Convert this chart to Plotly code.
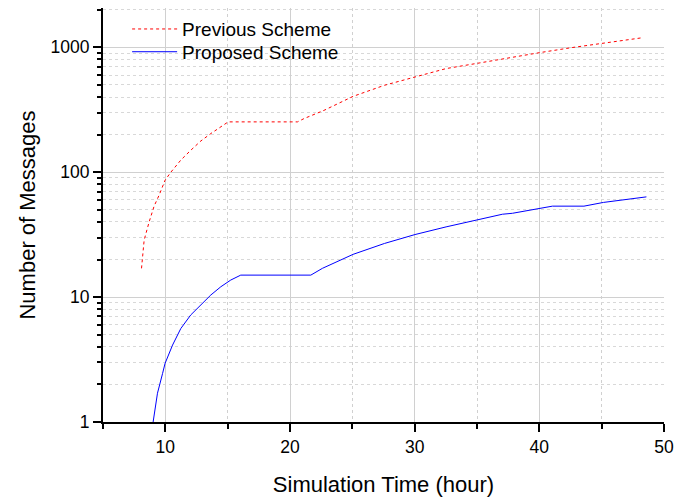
import plotly.graph_objects as go

prev_x = [8.09, 8.30, 8.70, 9.10, 9.50, 9.98, 10.44, 11.24, 12.04, 12.85, 13.65, 14.45, 15.04,
          20.6, 21.13, 22.73, 25.06, 27.58, 30.03, 32.52, 35.17, 37.55, 40.03, 42.6, 45.14, 48.3]
prev_y = [17.0, 28.6, 40, 53.5, 65.5, 86.3, 100, 125, 150, 178, 204, 230, 253,
          253, 269, 313, 405, 497, 578, 676, 749, 827, 907, 995, 1083, 1195]

prop_x = [9.02, 9.37, 9.78, 9.98, 10.58, 11.24, 12.04, 12.85, 13.65, 14.45, 15.25, 16.05,
          21.67, 22.6, 25.06, 27.58, 30.03, 32.52, 35.17, 37.04, 37.84, 40.03, 41.05, 43.58, 45.14, 48.59]
prop_y = [1.0, 1.7, 2.45, 2.95, 4.13, 5.6, 7.2, 8.6, 10.4, 12.1, 13.7, 15.0,
          15.0, 17, 22, 26.9, 31.7, 36.5, 41.8, 46.1, 46.9, 50.9, 53.5, 53.5, 57.3, 63.5]

FONT = "Arial, Liberation Sans, sans-serif"

fig = go.Figure()
fig.add_trace(go.Scatter(x=prev_x, y=prev_y, mode="lines", name="Previous Scheme",
                         line=dict(color="#ff0000", width=1, dash="dot"), legend="legend"))
fig.add_trace(go.Scatter(x=prop_x, y=prop_y, mode="lines", name="Proposed Scheme",
                         line=dict(color="#0000ff", width=1), legend="legend2"))

leg_common = dict(xanchor="left", yanchor="middle", bgcolor="rgba(0,0,0,0)",
                  font=dict(size=19), itemwidth=45, borderwidth=0)

fig.update_layout(
    width=675, height=500,
    margin=dict(l=103, r=11, t=8, b=78),
    paper_bgcolor="white", plot_bgcolor="white",
    font=dict(family=FONT, color="black", size=17.5),
    showlegend=True,
    legend=dict(x=0.043, y=0.949, **leg_common),
    legend2=dict(x=0.043, y=0.894, **leg_common),
    xaxis=dict(
        range=[5, 50], tickmode="linear", tick0=0, dtick=10, automargin=False,
        showline=True, linecolor="black", linewidth=2,
        ticks="outside", ticklen=8, tickwidth=2, tickcolor="black",
        showgrid=True, gridcolor="#d0d0d0", gridwidth=1,
        zeroline=False,
        minor=dict(dtick=5, tick0=0, ticks="outside", ticklen=5, tickwidth=2, tickcolor="black",
                   showgrid=True, gridcolor="#d0d0d0", griddash="dot", gridwidth=1),
        title=dict(text="Simulation Time (hour)", font=dict(size=22), standoff=21),
        tickfont=dict(size=17.5),
    ),
    yaxis=dict(
        type="log", range=[0, 3.315], tickmode="linear", tick0=0, dtick=1,
        exponentformat="none", automargin=False,
        showline=True, linecolor="black", linewidth=2,
        ticks="outside", ticklen=8, tickwidth=2, tickcolor="black",
        showgrid=True, gridcolor="#d0d0d0", gridwidth=1,
        zeroline=False,
        minor=dict(dtick="D1", ticks="outside", ticklen=4, tickwidth=2, tickcolor="black",
                   showgrid=True, gridcolor="#d8d8d8", griddash="dot", gridwidth=1),
        title=dict(text="Number of Messages", font=dict(size=22), standoff=9),
        tickfont=dict(size=17.5),
    ),
)

fig.write_html("out.html", config={"displayModeBar": False},
               post_script="document.body.style.margin='0';document.body.style.overflow='hidden';")
